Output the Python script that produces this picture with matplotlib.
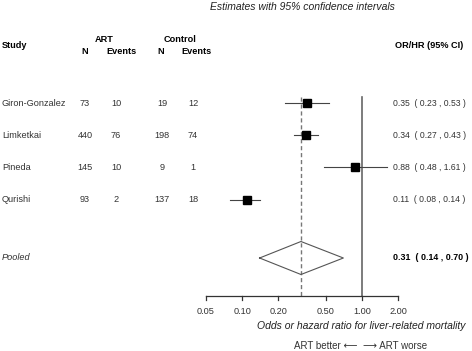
import matplotlib
matplotlib.use("Agg")
import matplotlib.pyplot as plt
import numpy as np
from matplotlib.transforms import blended_transform_factory

plt.rcParams['font.family'] = ['Liberation Sans', 'DejaVu Sans']

studies = ["Giron-Gonzalez", "Limketkai", "Pineda", "Qurishi"]
art_n = [73, 440, 145, 93]
art_events = [10, 76, 10, 2]
ctl_n = [19, 198, 9, 137]
ctl_events = [12, 74, 1, 18]
est = [0.35, 0.34, 0.88, 0.11]
lo = [0.23, 0.27, 0.48, 0.08]
hi = [0.53, 0.43, 1.61, 0.14]
pooled_est, pooled_lo, pooled_hi = 0.31, 0.14, 0.70
ticks = [0.05, 0.10, 0.20, 0.50, 1.00, 2.00]
tick_labels = ["0.05", "0.10", "0.20", "0.50", "1.00", "2.00"]

W, H = 472, 351
fig = plt.figure(figsize=(W/100, H/100), dpi=100)
ax = fig.add_axes([206/W, 0, (398-206)/W, 1])
ax.set_xscale('log')
ax.set_xlim(ticks[0], ticks[-1])
ax.set_ylim(H, 0)
ax.axis('off')

def fx(px):
    return px / W

bt = blended_transform_factory(fig.transFigure, ax.transData)

row_y = [103 + i * 32.2 for i in range(len(studies))]
pool_y = 258
axis_y = 295.5
top_y = 97

txt_col = '#333333'
fs = 6.6

# title
ax.text(fx(302), 7, "Estimates with 95% confidence intervals", transform=bt,
        ha='center', va='center', fontsize=7.5, style='italic', color='#222222')

# headers
ax.text(fx(2), 45, "Study", transform=bt, ha='left', va='center', fontsize=fs, weight='bold')
ax.text(fx(104), 39, "ART", transform=bt, ha='center', va='center', fontsize=fs, weight='bold')
ax.text(fx(180), 39, "Control", transform=bt, ha='center', va='center', fontsize=fs, weight='bold')
for x, s in [(85, "N"), (121, "Events"), (161, "N"), (196, "Events")]:
    ax.text(fx(x), 52, s, transform=bt, ha='center', va='center', fontsize=fs, weight='bold')
ax.text(fx(463), 45, "OR/HR (95% CI)", transform=bt, ha='right', va='center', fontsize=fs, weight='bold')

for i, y in enumerate(row_y):
    ax.text(fx(2), y, studies[i], transform=bt, ha='left', va='center', fontsize=fs, color=txt_col)
    ax.text(fx(85), y, str(art_n[i]), transform=bt, ha='center', va='center', fontsize=fs, color=txt_col)
    ax.text(fx(116), y, str(art_events[i]), transform=bt, ha='center', va='center', fontsize=fs, color=txt_col)
    ax.text(fx(162), y, str(ctl_n[i]), transform=bt, ha='center', va='center', fontsize=fs, color=txt_col)
    ax.text(fx(193), y, str(ctl_events[i]), transform=bt, ha='center', va='center', fontsize=fs, color=txt_col)
    ax.text(fx(393), y, f"{est[i]:.2f}  ( {lo[i]:.2f} , {hi[i]:.2f} )", transform=bt,
            ha='left', va='center', fontsize=6.2, color=txt_col)
    ax.plot([lo[i], hi[i]], [y, y], color='#444444', lw=0.8, clip_on=False, zorder=3)
    ax.plot([est[i]], [y], marker='s', ms=5.6, color='black', clip_on=False, zorder=4)

ax.text(fx(2), pool_y, "Pooled", transform=bt, ha='left', va='center', fontsize=fs,
        style='italic', color=txt_col)
ax.text(fx(393), pool_y, f"{pooled_est:.2f}  ( {pooled_lo:.2f} , {pooled_hi:.2f} )", transform=bt,
        ha='left', va='center', fontsize=6.4, weight='bold', color='black')

dh = 16.5
ax.plot([pooled_lo, pooled_est, pooled_hi, pooled_est, pooled_lo],
        [pool_y, pool_y - dh, pool_y, pool_y + dh, pool_y],
        color='#555555', lw=0.8, clip_on=False, zorder=3)

# reference lines
ax.plot([1, 1], [top_y, axis_y], color='#666666', lw=1.2, clip_on=False, zorder=1)
ax.plot([pooled_est, pooled_est], [top_y, axis_y], color='#777777', lw=1.0,
        ls=(0, (3, 2)), clip_on=False, zorder=1)

# axis
ax.plot([ticks[0], ticks[-1]], [axis_y, axis_y], color='#333333', lw=0.9, clip_on=False)
for t, lab in zip(ticks, tick_labels):
    ax.plot([t, t], [axis_y, axis_y + 4], color='#333333', lw=0.9, clip_on=False)
    ax.text(t, 312, lab, ha='center', va='center', fontsize=6.6, color=txt_col)

ax.text(fx(361), 326, "Odds or hazard ratio for liver-related mortality", transform=bt,
        ha='center', va='center', fontsize=7.5, style='italic', color='#222222')
ax.text(fx(361), 346, "ART better \u27f5  \u27f6 ART worse", transform=bt,
        ha='center', va='center', fontsize=7, color=txt_col)

fig.savefig("out.png", dpi=100)
